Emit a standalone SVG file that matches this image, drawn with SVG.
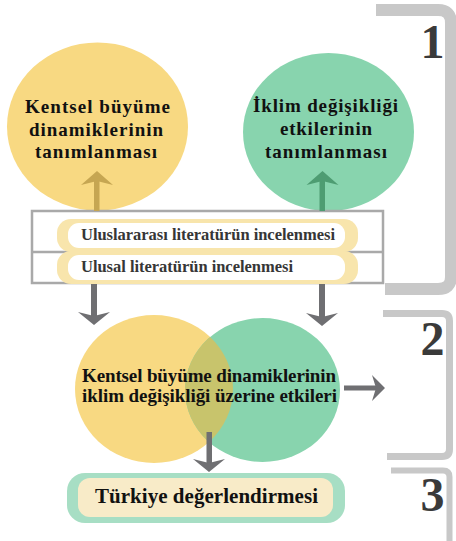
<svg xmlns="http://www.w3.org/2000/svg" width="456" height="541" viewBox="0 0 456 541">
<style>
  .t { font-family: "Liberation Serif", "Times New Roman", serif; font-weight: bold; fill: #111; }
  .c18 { font-size: 19px; }
  .lit { font-size: 16.5px; fill: #363636; }
  .num { font-family: "Liberation Serif", "Times New Roman", serif; font-weight: bold; font-size: 48px; fill: #3a3a3a; text-anchor: middle; }
  .yel { fill: #F8D982; }
  .grn { fill: #88D4AE; }
  .brk { fill: none; stroke: #C8C8C8; stroke-linecap: butt; }
  .box { fill: none; stroke: #A9A9A9; stroke-width: 2.5; }
  .pill { fill: #F8E5AC; }
  .pillIn { fill: #FFFFFF; }
  .gray { fill: #6F6F72; }
</style>
<defs>
  <clipPath id="greenClip">
    <ellipse cx="262.5" cy="390" rx="77.5" ry="72"/>
  </clipPath>
</defs>

<g id="section-brackets">
  <path class="brk" stroke-width="12" d="M376,10 H438 Q451,10 451,23 V277 Q451,289 438,289 H385"/>
  <path class="brk" stroke-width="7" d="M383,313.5 H442 Q449.5,313.5 449.5,321 V449 Q449.5,456.5 442,456.5 H387"/>
  <path class="brk" stroke-width="6" d="M391,470.5 H443 Q449.5,470.5 449.5,477 V541"/>
  <text class="num" x="432.5" y="58">1</text>
  <text class="num" x="432.5" y="355">2</text>
  <text class="num" x="432.5" y="511">3</text>
</g>

<g id="node-urban-growth">
  <ellipse class="yel" cx="97.5" cy="126.5" rx="90.5" ry="84"/>
  <text class="t c18" x="25" y="113" textLength="145" lengthAdjust="spacing">Kentsel büyüme</text>
  <text class="t c18" x="29" y="136" textLength="134" lengthAdjust="spacing">dinamiklerinin</text>
  <text class="t c18" x="35" y="158" textLength="122" lengthAdjust="spacing">tanımlanması</text>
</g>

<g id="node-climate-change">
  <ellipse class="grn" cx="328.5" cy="132" rx="85.5" ry="79"/>
  <text class="t c18" x="253" y="112" textLength="145" lengthAdjust="spacing">İklim değişikliği</text>
  <text class="t c18" x="280" y="135" textLength="92" lengthAdjust="spacing">etkilerinin</text>
  <text class="t c18" x="265" y="158" textLength="122" lengthAdjust="spacing">tanımlanması</text>
</g>

<g id="node-literature">
  <rect class="box" x="32" y="211" width="351" height="72"/>
  <line class="box" x1="32" y1="252" x2="383" y2="252"/>
  <rect class="pill" x="57" y="219" width="301" height="33" rx="14"/>
  <rect class="pillIn" x="68" y="223" width="277" height="25" rx="11"/>
  <rect class="pill" x="57" y="251" width="301" height="33" rx="14"/>
  <rect class="pillIn" x="68" y="255" width="277" height="25" rx="11"/>
  <text class="t lit" x="81" y="240" textLength="254" lengthAdjust="spacing">Uluslararası literatürün incelenmesi</text>
  <text class="t lit" x="81" y="272" textLength="212" lengthAdjust="spacing">Ulusal literatürün incelenmesi</text>
</g>

<g id="node-impacts">
  <ellipse class="yel" cx="154" cy="389" rx="79" ry="74"/>
  <ellipse class="grn" cx="262.5" cy="390" rx="77.5" ry="72"/>
  <ellipse fill="#C8C46C" cx="154" cy="389" rx="79" ry="74" clip-path="url(#greenClip)"/>
  <text class="t c18" x="82" y="382" textLength="254" lengthAdjust="spacing">Kentsel büyüme dinamiklerinin</text>
  <text class="t c18" x="82" y="402" textLength="255" lengthAdjust="spacing">iklim değişikliği üzerine etkileri</text>
</g>

<g id="node-turkey">
  <rect fill="#A7DEC4" x="67" y="473" width="278" height="50" rx="18"/>
  <rect fill="#F8EBC8" x="78" y="478" width="255" height="39" rx="12"/>
  <text class="t" font-size="21" x="95" y="503" textLength="223" lengthAdjust="spacing">Türkiye değerlendirmesi</text>
</g>

<g id="connectors">
  <rect fill="#C6A652" x="94" y="180" width="5.5" height="31"/>
  <path fill="#C6A652" d="M97,171 L113,185 L97,181 L81,185 Z"/>
  <rect fill="#4E9C72" x="319.5" y="180" width="5.5" height="31"/>
  <path fill="#4E9C72" d="M322.5,171 L338.5,185 L322.5,181 L306.5,185 Z"/>
  <rect class="gray" x="91" y="284" width="6" height="33"/>
  <path class="gray" d="M94,325 L110,312 L94,316 L78,312 Z"/>
  <rect class="gray" x="319" y="284" width="6" height="34"/>
  <path class="gray" d="M322,326 L338,313 L322,317 L306,313 Z"/>
  <rect class="gray" x="344" y="385.5" width="33" height="5"/>
  <path class="gray" d="M385,388 L372,375 L376,388 L372,401 Z"/>
  <rect class="gray" x="206.5" y="432" width="5.5" height="32"/>
  <path class="gray" d="M209,472 L225,459 L209,463 L193,459 Z"/>
</g>
</svg>
